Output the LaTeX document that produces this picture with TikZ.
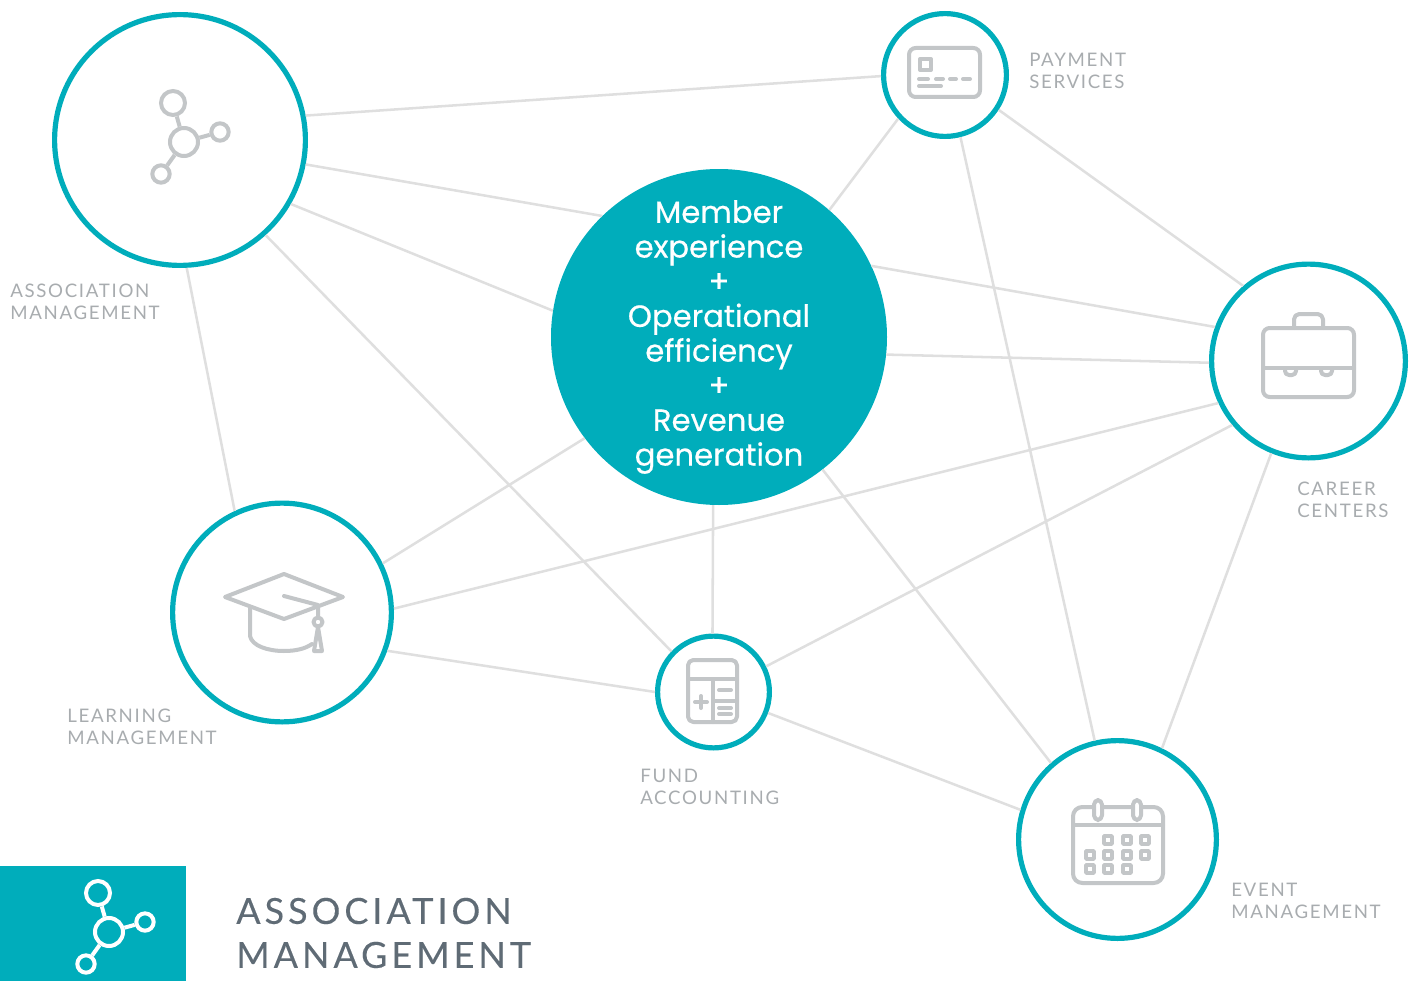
\documentclass[tikz,border=0pt]{standalone}
\usepackage{fontspec}
\setmainfont{Poppins}
\newfontfamily\corefont[FakeBold=0.5]{Poppins}
\newfontfamily\tagfont[LetterSpace=9]{Lato}
\newfontfamily\bigtagfont[LetterSpace=11,FakeBold=0.2]{Lato}
\definecolor{teal}{HTML}{00ADBB}
\definecolor{wire}{HTML}{DFDFDF}
\definecolor{iconline}{HTML}{C3C6C8}
\definecolor{tagtext}{HTML}{A8ACAF}
\definecolor{bigtext}{HTML}{5F6B75}
\tikzstyle{hub}=[circle,draw=teal,fill=white,line width=3.9pt,inner sep=0pt,minimum size=#1*0.75pt-3.9pt]
\tikzstyle{core}=[circle,fill=teal,text=white,inner sep=-12pt,minimum size=252pt,align=center,font=\fontsize{23}{26}\selectfont\corefont]
\tikzstyle{link}=[draw=wire,line width=1.9pt]
\tikzstyle{icon}=[draw=iconline,line width=3pt,line cap=round,line join=round]
\tikzstyle{tag}=[anchor=west,align=left,inner sep=0pt,text=tagtext,font=\fontsize{14}{16.6}\selectfont\tagfont]
\tikzset{
  blob/.style={circle,draw=#1,line width=3pt,inner sep=0pt},
  molecule/.pic={
    \node [blob=\tikzpictextoptions,minimum size=21pt] (-mid) at (0,0) {};
    \node [blob=\tikzpictextoptions,minimum size=18pt] (-top) at (-11,-39) {};
    \node [blob=\tikzpictextoptions,minimum size=13pt] (-right) at (36,-10) {};
    \node [blob=\tikzpictextoptions,minimum size=13pt] (-low) at (-23,32) {};
    \draw [\tikzpictextoptions,line width=3pt] (-mid) -- (-top);
    \draw [\tikzpictextoptions,line width=3pt] (-mid) -- (-right);
    \draw [\tikzpictextoptions,line width=3pt] (-mid) -- (-low);
  }
}
\begin{document}
\begin{tikzpicture}[x=0.75pt,y=-0.75pt]
\useasboundingbox (0,0) rectangle (1411,981);
\node [hub=256] (assoc) at (180,140) {};
\node [hub=128] (pay) at (945,75) {};
\node [hub=199] (career) at (1308.5,361) {};
\node [hub=224] (learn) at (282,612.5) {};
\node [hub=117] (fund) at (713.5,692) {};
\node [hub=203] (event) at (1117.5,839.5) {};
\node [core] (member) at (719,337) {Member\\experience\\+\\Operational\\efficiency\\+\\Revenue\\generation};
% connectors: from/angle/to/angle
\foreach \from/\fa/\to/\ta in {assoc/11.1/pay/181.8, assoc/-11.1/member/134.3, assoc/-30.6/member/171.8,
    assoc/-48.8/fund/136.4, assoc/-87.8/learn/115.2, pay/223.7/member/49.6, pay/-76.6/event/103.2,
    pay/-33/career/131.7, member/25.3/career/160, member/-6.2/career/181.8, career/205.8/learn/2,
    career/220.5/fund/26.1, career/248.5/event/64, member/-52.9/event/131.3, member/268/fund/91,
    member/217.8/learn/26.8, learn/-20.2/fund/180, fund/-21.4/event/163}
  \draw [link] (\from.\fa) -- (\to.\ta);
% labels
\node [tag] (assoctag) at (10,302) {ASSOCIATION\\MANAGEMENT};
\node [tag] (paytag) at (1029,71) {PAYMENT\\SERVICES};
\node [tag] (careertag) at (1297,499.5) {CAREER\\CENTERS};
\node [tag] (learntag) at (67,727) {LEARNING\\MANAGEMENT};
\node [tag] (fundtag) at (640,786.5) {FUND\\ACCOUNTING};
\node [tag] (eventtag) at (1231,901) {EVENT\\MANAGEMENT};
% molecule icon
\pic (assocmol) [pic text options={iconline}] at (184,142) {molecule};
% card
\draw [icon,rounded corners=5pt] (909,48) rectangle (980,97);
\draw [icon] (920,59) rectangle (931,70);
\draw [icon] (919,79) -- (928,79) (936,79) -- (943,79) (950,79) -- (956,79) (963,79) -- (970,79) (919,86) -- (941,86);
% briefcase
\draw [icon,rounded corners=5pt] (1263,328) rectangle (1354,397);
\draw [icon] (1263,368) -- (1354,368);
\draw [icon,rounded corners=4pt] (1294,328) -- (1294,314) -- (1323,314) -- (1323,328);
\draw [icon,rounded corners=3pt] (1285,368) -- (1285,375) -- (1296,375) -- (1296,368);
\draw [icon,rounded corners=3pt] (1321,368) -- (1321,375) -- (1332,375) -- (1332,368);
% cap
\draw [icon] (225,597) -- (284,574) -- (343,597) -- (284,619) -- cycle;
\draw [icon] (284,596) -- (318,605) -- (318,618);
\draw [icon] (318,622) circle (4.5);
\draw [icon] (318,627) -- (314,651) -- (322,651) -- cycle;
\draw [icon] (250,608) -- (250,636) .. controls (252,646) and (268,651) .. (284,651) .. controls (295,651) and (305,649) .. (312,644);
% calculator
\draw [icon,rounded corners=4pt] (688,660) rectangle (737,722);
\draw [icon] (688,679) -- (737,679) (713,679) -- (713,722) (713,701) -- (737,701);
\draw [icon] (695,702) -- (707,702) (701,696) -- (701,708);
\draw [icon] (719,690) -- (731,690) (719,708) -- (731,708) (719,714) -- (731,714);
% calendar
\draw [icon,rounded corners=7pt] (1073,807) rectangle (1163,883);
\draw [icon] (1073,825) -- (1163,825);
\foreach \ringx in {1098,1137}
  \draw [icon,fill=white,rounded corners=3.5pt] (\ringx-4,800) rectangle (\ringx+4,820);
\foreach \cx/\cy in {1108/840,1127/840,1145/840,1090/855,1108/855,1127/855,1145/855,1090/869,1108/869,1127/869}
  \draw [icon,line width=2.6pt] (\cx-4,\cy-4) rectangle (\cx+4,\cy+4);
% banner
\node [fill=teal,inner sep=0pt,minimum width=139.5pt,minimum height=86.25pt,anchor=north west] (banner) at (0,866) {};
\pic (bannermol) [pic text options={white}] at (109,932) {molecule};
\node [anchor=west,align=left,inner sep=0pt,text=bigtext,font=\fontsize{27}{33}\selectfont\bigtagfont] (bannertag) at (236,933) {ASSOCIATION\\MANAGEMENT};
\end{tikzpicture}
\end{document}
